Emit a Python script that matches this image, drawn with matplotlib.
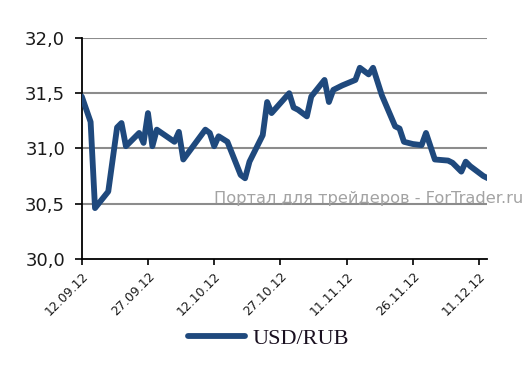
import numpy as np
import pandas as pd
import matplotlib
matplotlib.use("Agg")
import matplotlib.pyplot as plt
import matplotlib.dates as mdates

# USD/RUB rate, values
dates = ["12.09.12", "14.09.12", "15.09.12", "18.09.12", "20.09.12", "21.09.12",
         "22.09.12", "25.09.12", "26.09.12", "27.09.12", "28.09.12", "29.09.12",
         "03.10.12", "04.10.12", "05.10.12", "10.10.12", "11.10.12", "12.10.12",
         "13.10.12", "15.10.12", "18.10.12", "19.10.12", "20.10.12", "23.10.12",
         "24.10.12", "25.10.12", "29.10.12", "30.10.12", "31.10.12", "02.11.12",
         "03.11.12", "06.11.12", "07.11.12", "08.11.12", "10.11.12", "13.11.12",
         "14.11.12", "16.11.12", "17.11.12", "19.11.12", "22.11.12", "23.11.12",
         "24.11.12", "26.11.12", "28.11.12", "29.11.12", "01.12.12", "04.12.12",
         "05.12.12", "07.12.12", "08.12.12", "09.12.12", "12.12.12", "13.12.12"]
usd_rub = [31.47, 31.24, 30.46, 30.61, 31.19, 31.23,
           31.02, 31.14, 31.05, 31.32, 31.02, 31.17,
           31.06, 31.15, 30.90, 31.17, 31.14, 31.02,
           31.11, 31.06, 30.76, 30.73, 30.88, 31.12,
           31.42, 31.32, 31.50, 31.37, 31.35, 31.29,
           31.47, 31.62, 31.42, 31.53, 31.57, 31.62,
           31.73, 31.67, 31.73, 31.48, 31.20, 31.18,
           31.06, 31.04, 31.03, 31.14, 30.90, 30.89,
           30.87, 30.79, 30.88, 30.84, 30.75, 30.73]
tick_dates = ["12.09.12", "27.09.12", "12.10.12", "27.10.12",
              "11.11.12", "26.11.12", "11.12.12"]
y_ticks = [30.0, 30.5, 31.0, 31.5, 32.0]

x = pd.to_datetime(dates, format="%d.%m.%y")
xt = pd.to_datetime(tick_dates, format="%d.%m.%y")

line_color = "#1f497d"

fig = plt.figure(figsize=(5.31, 3.72), dpi=100)
ax = fig.add_axes([0.154, 0.304, 0.763, 0.594])

for yv in y_ticks[1:]:
    ax.axhline(yv, color="#8c8c8c", lw=1.5, zorder=1)

ax.plot(x, usd_rub, color=line_color, lw=4.2, solid_joinstyle="round",
        solid_capstyle="round", label="USD/RUB", zorder=3)

ax.set_xlim(x[0], x[0] + pd.Timedelta(days=91.8))
ax.set_ylim(30.0, 32.0)
ax.set_yticks(y_ticks)
ax.set_yticklabels([("%.1f" % v).replace(".", ",") for v in y_ticks],
                   fontsize=13, color="#1a1a1a")
ax.set_xticks(xt)
ax.set_xticklabels(tick_dates, rotation=45, ha="right",
                   rotation_mode="anchor", fontsize=9, color="#1a1a1a")
ax.tick_params(axis="y", length=5, width=1.2, pad=7)
ax.tick_params(axis="x", length=4, width=1.2, pad=4)

for s in ["top", "right"]:
    ax.spines[s].set_visible(False)
for s in ["left", "bottom"]:
    ax.spines[s].set_linewidth(1.3)
    ax.spines[s].set_color("black")

# watermark
fig.text(0.403, 0.454, "Портал для трейдеров - ForTrader.ru",
         fontsize=11.7, color="#a3a3a3", va="baseline", ha="left")

leg = fig.legend(loc="center", bbox_to_anchor=(0.505, 0.09), frameon=False,
                 handlelength=2.6, handletextpad=0.3,
                 prop={"family": "Liberation Serif", "size": 16})
for t in leg.get_texts():
    t.set_color("#1a1020")

fig.savefig("out.png", dpi=100)
